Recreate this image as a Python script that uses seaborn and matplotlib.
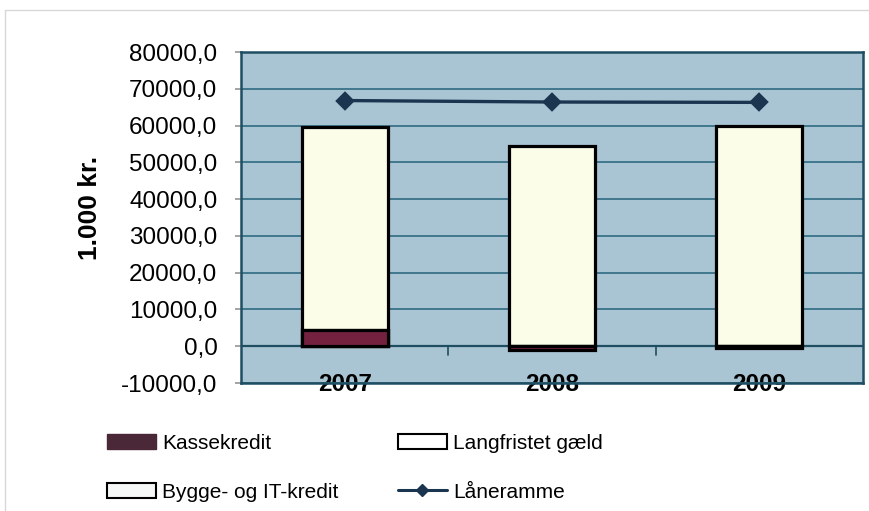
import matplotlib
matplotlib.use("Agg")
import matplotlib.pyplot as plt
import seaborn as sns
import numpy as np
from matplotlib.patches import Patch
from matplotlib.lines import Line2D
from matplotlib.ticker import FuncFormatter

# ---- data ----
years = ["2007", "2008", "2009"]
kassekredit = [4500, -1000, -500]
bygge_it_kredit = [0, 0, 0]
langfristet_gaeld = [55000, 54400, 60000]
laaneramme = [66800, 66400, 66300]
y_ticks = list(range(-10000, 80001, 10000))
legend_labels = ["Kassekredit", "Bygge- og IT-kredit", "Langfristet gæld", "Låneramme"]

# ---- style ----
sns.set_theme(style="white")
plt.rcParams['font.family'] = ['Liberation Sans', 'DejaVu Sans']
plt.rcParams['text.color'] = 'black'
plt.rcParams['axes.labelcolor'] = 'black'
plt.rcParams['xtick.color'] = 'black'
plt.rcParams['ytick.color'] = 'black'

c_kasse = '#74213F'
c_kasse_leg = '#4A2838'
c_bygge = '#FBFCE4'
c_lang = '#FCFDE8'
c_line = '#1B3550'
c_bg = '#A9C4D2'
c_grid = '#2F6B82'
c_spine = '#1F4E63'

fig = plt.figure(figsize=(8.69, 5.11), dpi=100)
ax = fig.add_axes([241/869, 1-383/511, 622/869, (383-52)/511])
ax.set_facecolor(c_bg)
ax.set_axisbelow(True)

pos_k = np.clip(np.array(kassekredit), 0, None)
top_bygge = pos_k + np.array(bygge_it_kredit)
top_total = top_bygge + np.array(langfristet_gaeld)

bar_kw = dict(saturation=1, width=0.415, edgecolor='black', linewidth=2.3,
              errorbar=None, ax=ax, zorder=3)
sns.barplot(x=years, y=top_total, color=c_lang, **bar_kw)
sns.barplot(x=years, y=top_bygge, color=c_bygge, **bar_kw)
sns.barplot(x=years, y=kassekredit, color=c_kasse, **bar_kw)

sns.pointplot(x=years, y=laaneramme, color=c_line, markers='D', markersize=8,
              linewidth=2.4, errorbar=None, ax=ax)
for coll in ax.collections:
    coll.set_zorder(5)
for ln in ax.lines:
    ln.set_zorder(5)

ax.set_xlim(-0.5, len(years) - 0.5)
ax.set_ylim(y_ticks[0], y_ticks[-1])
ax.set_yticks(y_ticks)
ax.yaxis.set_major_formatter(FuncFormatter(lambda v, _: f"{v:.1f}".replace('.', ',')))
ax.grid(axis='y', color=c_grid, linewidth=1.2)
ax.axhline(0, color=c_spine, linewidth=1.6, zorder=2)
for b in np.arange(0.5, len(years) - 1):
    ax.plot([b, b], [0, -2400], color=c_spine, linewidth=1.2, zorder=2)

for s in ax.spines.values():
    s.set_visible(True)
    s.set_color(c_spine)
    s.set_linewidth(1.8)

ax.tick_params(axis='y', length=4, color='#999999', pad=13, labelsize=17.5,
               labelcolor='black', left=True)
ax.tick_params(axis='x', length=0, pad=-7, labelsize=17.5, labelcolor='black')
for t in ax.get_xticklabels():
    t.set_fontweight('bold')
    t.set_zorder(6)
ax.set_xlabel('')
ax.set_ylabel('1.000 kr.', fontsize=19, fontweight='bold', color='black')
ax.yaxis.set_label_coords((102 - 241) / 622, 0.53)

handles = [
    Patch(facecolor=c_kasse_leg, edgecolor=c_kasse_leg),
    Patch(facecolor='#F6F8F8', edgecolor='black', linewidth=1.5),
    Patch(facecolor='white', edgecolor='black', linewidth=1.5),
    Line2D([0], [0], color=c_line, marker='D', markersize=6, linewidth=2.2),
]
fig.legend(handles, legend_labels, loc='upper left',
           bbox_to_anchor=(107/869, 1 - 434/511), ncol=2, frameon=False,
           fontsize=15, handlelength=2.35, handleheight=0.75, handletextpad=0.3,
           columnspacing=2.85, labelspacing=1.42, borderpad=0, borderaxespad=0,
           labelcolor='black')

fig.add_artist(Line2D([5/869, 1], [1 - 10/511] * 2, transform=fig.transFigure,
                      color='#D8D8D8', linewidth=1))
fig.add_artist(Line2D([5/869] * 2, [0, 1 - 10/511], transform=fig.transFigure,
                      color='#D8D8D8', linewidth=1))

fig.savefig('out.png', dpi=100)
